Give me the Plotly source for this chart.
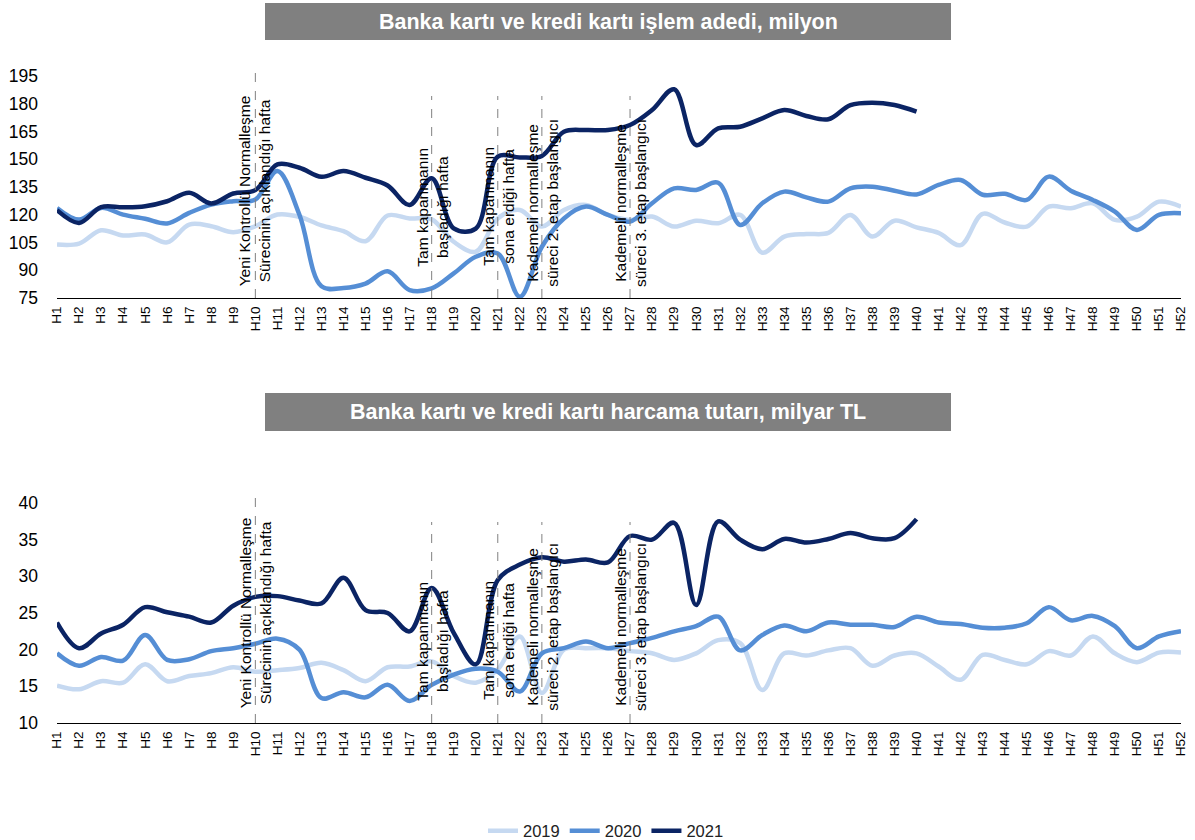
import plotly.graph_objects as go

weeks = [f"H{i}" for i in range(1, 53)]

# Top chart: card transactions count, million
count_2019 = [103.9, 104.4, 111.6, 108.8, 109.3, 105.1, 114.7, 113.8, 110.6, 113.8,
              120.1, 118.9, 114.2, 111.1, 105.7, 119.6, 118.0, 117.5, 105.4, 100.0,
              118.0, 122.6, 113.6, 122.6, 125.3, 119.9, 117.2, 119.0, 113.6, 116.8,
              115.4, 119.9, 99.5, 108.2, 109.6, 110.2, 119.9, 108.2, 116.8, 113.2,
              110.2, 103.6, 120.5, 115.8, 113.6, 124.4, 123.5, 126.2, 117.2, 119.0,
              127.1, 124.4]
count_2020 = [123.7, 117.4, 123.7, 120.1, 117.8, 115.3, 121.0, 125.5, 127.3, 128.2,
              143.6, 120.0, 81.3, 80.4, 82.8, 89.4, 79.3, 80.2, 88.3, 97.3,
              99.1, 75.7, 102.7, 118.0, 124.4, 119.9, 116.3, 126.2, 134.3, 133.4,
              137.3, 114.5, 126.2, 132.5, 129.4, 127.1, 134.3, 135.2, 133.0, 131.0,
              136.1, 138.8, 130.8, 131.3, 128.0, 140.6, 133.0, 128.0, 121.7, 111.8,
              119.9, 120.8]
count_2021 = [122.5, 115.6, 124.1, 124.0, 124.6, 127.3, 131.9, 126.1, 131.5, 133.3,
              147.2, 145.4, 140.5, 143.6, 140.0, 135.8, 125.3, 139.7, 112.7, 112.5,
              151.4, 151.0, 151.8, 164.9, 165.8, 165.8, 168.5, 176.6, 187.8, 157.7,
              166.7, 167.6, 172.1, 176.6, 173.4, 171.6, 179.3, 180.6, 179.3, 175.7]

# Bottom chart: card spending, billion TL
spend_2019 = [15.1, 14.6, 15.7, 15.5, 18.0, 15.7, 16.4, 16.8, 17.6, 17.0,
              17.2, 17.5, 18.2, 17.2, 15.7, 17.6, 17.7, 18.4, 16.4, 15.5,
              17.3, 21.8, 14.1, 20.0, 20.2, 20.2, 19.8, 19.5, 18.6, 19.5,
              21.3, 20.9, 14.5, 19.5, 19.2, 19.9, 20.2, 17.8, 19.2, 19.5,
              17.7, 15.9, 19.3, 18.6, 18.0, 19.8, 19.2, 21.8, 19.5, 18.3,
              19.6, 19.6]
spend_2020 = [19.5, 17.8, 19.0, 18.5, 22.0, 18.6, 18.7, 19.8, 20.2, 20.8,
              21.5, 20.0, 13.4, 14.2, 13.5, 15.2, 13.0, 15.2, 16.6, 17.4,
              17.0, 14.3, 19.5, 20.2, 21.1, 20.2, 20.9, 21.6, 22.5, 23.2,
              24.5, 19.9, 22.0, 23.3, 22.5, 23.7, 23.4, 23.4, 23.1, 24.5,
              23.7, 23.5, 23.0, 23.0, 23.6, 25.8, 24.0, 24.6, 23.2, 20.2,
              21.8, 22.5]
spend_2021 = [23.7, 20.2, 22.2, 23.4, 25.8, 25.1, 24.5, 23.7, 26.0, 27.2,
              27.3, 26.7, 26.3, 29.8, 25.4, 25.0, 22.5, 28.4, 22.3, 18.0,
              29.5, 31.6, 32.6, 32.0, 32.3, 31.9, 35.5, 35.0, 37.3, 26.1,
              37.5, 35.0, 33.7, 35.1, 34.6, 35.1, 35.9, 35.2, 35.2, 37.8]

years = ["2019", "2020", "2021"]
colors = ["#C6D9F1", "#558ED5", "#0B2464"]

top_ticks = [75, 90, 105, 120, 135, 150, 165, 180, 195]
bottom_ticks = [10, 15, 20, 25, 30, 35, 40]

event_weeks = ["H10", "H18", "H21", "H23", "H27"]
event_texts = [
    "Yeni Kontrollü Normalleşme<br>Sürecinin açıklandığı hafta",
    "Tam kapanmanın<br>başladığı hafta",
    "Tam kapanmanın<br>sona erdiği hafta",
    "Kademeli normalleşme<br>süreci 2. etap başlangıcı",
    "Kademeli normalleşme<br>süreci 3. etap başlangıcı",
]
# vertical pixel centres / line tops for labels (layout only)
top_label_px = [191, 207, 206, 203, 203]
bottom_label_px = [613, 641, 640, 627, 627]
top_line_top_px = [65, 96, 96, 96, 96]
bottom_line_top_px = [492, 522, 522, 522, 522]

titles = ["Banka kartı ve kredi kartı işlem adedi, milyon",
          "Banka kartı ve kredi kartı harcama tutarı, milyar TL"]

W, H = 1195.0, 840.0
L, R = 57, 14
PW = W - L - R


def py(px):
    return 1 - px / H


def pxx(px):
    return (px - L) / PW


FONT = "Liberation Sans, Arial, sans-serif"

fig = go.Figure()

top_series = [count_2019, count_2020, count_2021]
bot_series = [spend_2019, spend_2020, spend_2021]
for i, (yr, col) in enumerate(zip(years, colors)):
    vals = top_series[i]
    fig.add_trace(go.Scatter(x=weeks[:len(vals)], y=vals, mode="lines", name=yr,
                             line=dict(color=col, width=4.5, shape="spline", smoothing=1),
                             xaxis="x", yaxis="y", showlegend=True, legendgroup=yr))
for i, (yr, col) in enumerate(zip(years, colors)):
    vals = bot_series[i]
    fig.add_trace(go.Scatter(x=weeks[:len(vals)], y=vals, mode="lines", name=yr,
                             line=dict(color=col, width=4.5, shape="spline", smoothing=1),
                             xaxis="x2", yaxis="y2", showlegend=False, legendgroup=yr))

xax = dict(type="category", categoryorder="array", categoryarray=weeks,
           range=[0, 51], tickangle=-90, showgrid=False, zeroline=False,
           showline=True, linecolor="black", linewidth=1, ticks="",
           tickfont=dict(family=FONT, size=13.5, color="black"),
           ticklabelstandoff=2, fixedrange=True, automargin=False)
yax = dict(showgrid=False, zeroline=False, showline=False, ticks="",
           tickfont=dict(family=FONT, size=17.5, color="black"),
           ticklabelstandoff=18, fixedrange=True, automargin=False)

fig.update_layout(
    width=W, height=H,
    margin=dict(l=L, r=R, t=0, b=0, autoexpand=False),
    paper_bgcolor="white", plot_bgcolor="white",
    font=dict(family=FONT, color="black"),
    xaxis=dict(xax, anchor="y", domain=[0, 1]),
    yaxis=dict(yax, anchor="x", domain=[py(298), py(76)], range=[75, 195],
               tickvals=top_ticks),
    xaxis2=dict(xax, anchor="y2", domain=[0, 1]),
    yaxis2=dict(yax, anchor="x2", domain=[py(723), py(503)], range=[10, 40],
                tickvals=bottom_ticks),
    legend=dict(orientation="h", xref="container", yref="container",
                x=606 / W, xanchor="center", y=1 - 831 / H, yanchor="middle",
                font=dict(family=FONT, size=16.5, color="#222222"),
                tracegroupgap=0, bgcolor="rgba(0,0,0,0)"),
    showlegend=True,
)

shapes = []
annotations = []
# title boxes
for t, (y0, y1) in zip(titles, [(3, 40), (393, 431)]):
    shapes.append(dict(type="rect", xref="paper", yref="paper",
                       x0=pxx(265), x1=pxx(951),
                       y0=py(y1), y1=py(y0), fillcolor="#808080", line=dict(width=0),
                       layer="above"))
    annotations.append(dict(text=f"<b>{t}</b>", xref="paper", yref="paper",
                            x=pxx((265 + 951) / 2), y=py((y0 + y1) / 2),
                            xanchor="center", yanchor="middle", showarrow=False,
                            font=dict(family=FONT, size=21.5, color="white")))

for wk, txt, tp, bp, tl, bl in zip(event_weeks, event_texts, top_label_px,
                                   bottom_label_px, top_line_top_px, bottom_line_top_px):
    idx = weeks.index(wk)
    shapes.append(dict(type="line", xref="x", yref="paper", x0=idx, x1=idx,
                       y0=py(298), y1=py(tl), line=dict(color="#808080", width=1, dash="dash")))
    shapes.append(dict(type="line", xref="x2", yref="paper", x0=idx, x1=idx,
                       y0=py(723), y1=py(bl), line=dict(color="#808080", width=1, dash="dash")))
    for xr, pxc in (("x", tp), ("x2", bp)):
        annotations.append(dict(text=txt, xref=xr, yref="paper", x=idx, y=py(pxc),
                                xanchor="center", yanchor="middle", showarrow=False,
                                textangle=-90, align="center",
                                font=dict(family=FONT, size=15.5, color="black")))

fig.update_layout(shapes=shapes, annotations=annotations)

fig.write_html("out.html", config={"displayModeBar": False},
               post_script="document.body.style.margin='0';")
